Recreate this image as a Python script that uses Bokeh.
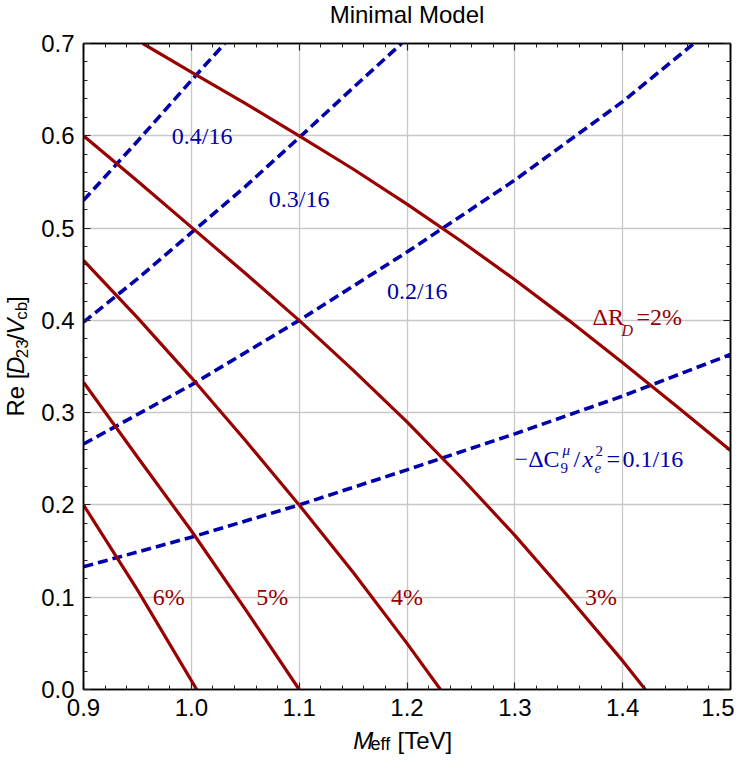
import math
from bokeh.plotting import figure
from bokeh.layouts import column, row
from bokeh.models import (Range1d, FixedTicker, LinearAxis, PrintfTickFormatter,
                          CustomJSTickFormatter, Label, Grid)
from bokeh.core.properties import value
from bokeh.embed import file_html
from bokeh.resources import INLINE

# ---------------- data ----------------
x_ticks = [0.9, 1.0, 1.1, 1.2, 1.3, 1.4, 1.5]
y_ticks = [0.0, 0.1, 0.2, 0.3, 0.4, 0.5, 0.6, 0.7]
x_minor = [round(0.9 + 0.02 * i, 2) for i in range(31)]
y_minor = [round(0.02 * i, 2) for i in range(36)]

# Delta R_D contours (solid red)
rd2_x = [0.955, 1.0, 1.05, 1.1, 1.15, 1.2, 1.25, 1.3, 1.35, 1.4, 1.45, 1.5]
rd2_y = [0.700, 0.669, 0.635, 0.600, 0.564, 0.526, 0.486, 0.444, 0.400, 0.354, 0.307, 0.259]
rd3_x = [0.9, 0.95, 1.0, 1.05, 1.1, 1.15, 1.2, 1.25, 1.3, 1.35, 1.4, 1.421]
rd3_y = [0.600, 0.551, 0.501, 0.451, 0.400, 0.346, 0.290, 0.230, 0.167, 0.100, 0.031, 0.0]
rd4_x = [0.9, 0.95, 1.0, 1.05, 1.1, 1.15, 1.2, 1.231]
rd4_y = [0.465, 0.403, 0.338, 0.270, 0.200, 0.127, 0.050, 0.0]
rd5_x = [0.9, 0.95, 1.0, 1.05, 1.1]
rd5_y = [0.333, 0.252, 0.172, 0.087, 0.0]
rd6_x = [0.9, 0.95, 1.005]
rd6_y = [0.200, 0.108, 0.0]

# -Delta C9 / x_e^2 contours (dashed blue)
c1_x = [0.9, 1.0, 1.1, 1.2, 1.3, 1.4, 1.5]
c1_y = [0.133, 0.165, 0.200, 0.238, 0.277, 0.318, 0.363]
c2_x = [0.9, 1.0, 1.1, 1.2, 1.3, 1.4, 1.466]
c2_y = [0.266, 0.330, 0.400, 0.474, 0.552, 0.637, 0.700]
c3_x = [0.9, 0.95, 1.0, 1.05, 1.1, 1.15, 1.195]
c3_y = [0.398, 0.445, 0.495, 0.545, 0.598, 0.652, 0.700]
c4_x = [0.9, 0.95, 1.0, 1.031]
c4_y = [0.530, 0.594, 0.660, 0.700]

RED = "#990000"
BLUE = "#0000aa"
SANS = "Liberation Sans"
SERIF = "Liberation Serif"
SERIF_MID = 0.3375   # em distance baseline -> middle of text box
SANS_MID = 0.3465

# ---------------- main plot ----------------
p = figure(width=702, height=696, frame_width=647, frame_height=646,
           x_range=Range1d(0.9, 1.5), y_range=Range1d(0.0, 0.7),
           output_backend="svg", toolbar_location=None, title=None,
           x_axis_type=None, y_axis_type=None,
           min_border_left=51, min_border_right=4,
           min_border_top=13, min_border_bottom=37)
p.outline_line_color = "black"
p.outline_line_width = 1.5

p.add_layout(Grid(dimension=0, ticker=FixedTicker(ticks=x_ticks),
                  grid_line_color="#c8c8c8", grid_line_width=1.3))
p.add_layout(Grid(dimension=1, ticker=FixedTicker(ticks=y_ticks),
                  grid_line_color="#c8c8c8", grid_line_width=1.3))


def style_axis(ax, ticks, minor, labels=True, standoff=8):
    ax.ticker = FixedTicker(ticks=ticks, minor_ticks=minor)
    ax.axis_line_color = "black"
    ax.axis_line_width = 1.5
    ax.major_tick_in = 7
    ax.major_tick_out = 0
    ax.minor_tick_in = 4
    ax.minor_tick_out = 0
    ax.major_tick_line_color = "#222222"
    ax.minor_tick_line_color = "#222222"
    ax.major_tick_line_width = 1.2
    ax.minor_tick_line_width = 1.0
    ax.major_label_text_font = SANS
    ax.major_label_text_font_size = "24px"
    ax.major_label_text_color = "black"
    ax.major_label_standoff = standoff
    if labels:
        ax.formatter = PrintfTickFormatter(format="%.1f")
    else:
        ax.formatter = CustomJSTickFormatter(code="return ''")
        ax.major_label_standoff = 0


xb = LinearAxis(); style_axis(xb, x_ticks, x_minor, standoff=9)
yl = LinearAxis(); style_axis(yl, y_ticks, y_minor, standoff=9)
xt = LinearAxis(); style_axis(xt, x_ticks, x_minor, labels=False)
yr = LinearAxis(); style_axis(yr, y_ticks, y_minor, labels=False)
p.add_layout(xb, "below")
p.add_layout(yl, "left")
p.add_layout(xt, "above")
p.add_layout(yr, "right")

for xs, ys in [(c1_x, c1_y), (c2_x, c2_y), (c3_x, c3_y), (c4_x, c4_y)]:
    p.line(xs, ys, line_color=BLUE, line_width=3.6, line_dash="10 5")
for xs, ys in [(rd2_x, rd2_y), (rd3_x, rd3_y), (rd4_x, rd4_y),
               (rd5_x, rd5_y), (rd6_x, rd6_y)]:
    p.line(xs, ys, line_color=RED, line_width=3.2)


def lab(x, y, text, dx=0, dy=0, size=24, style="normal", color="black",
        align="left", centered=False):
    # dy: offset (px, up) of the text baseline; rendered via 'middle' baseline
    yo = 0 if centered else dy + SERIF_MID * size
    p.add_layout(Label(x=x, y=y, text=text, x_offset=dx, y_offset=yo,
                       text_font=SERIF, text_font_size=f"{size}px",
                       text_font_style=style, text_color=color,
                       text_align=align, text_baseline="middle"))


for xc, t in [(0.979, "6%"), (1.075, "5%"), (1.200, "4%"), (1.380, "3%")]:
    lab(xc, 0.1, t, color=RED, align="center", centered=True)
for xc, yc, t in [(1.010, 0.600, "0.4/16"), (1.100, 0.531, "0.3/16"),
                  (1.2095, 0.432, "0.2/16")]:
    lab(xc, yc, t, color=BLUE, align="center", centered=True)

# Delta R_D = 2%
ax0, ay0 = 1.372, 0.3945
lab(ax0, ay0, "\u0394R", 0, 0, 24, color=RED)
lab(ax0, ay0, "D", 29, -10, 16, "italic", color=RED)
lab(ax0, ay0, "=2%", 44, 0, 24, color=RED)

# -Delta C9^mu / x_e^2 = 0.1/16
bx0, by0 = 1.2998, 0.241
lab(bx0, by0, "\u2212\u0394C", 0, 0, 24, color=BLUE)
lab(bx0, by0, "9", 46, -6, 15, color=BLUE)
lab(bx0, by0, "\u03bc", 48, 12, 15, "italic", color=BLUE)
lab(bx0, by0, "/", 59, 0, 24, color=BLUE)
lab(bx0, by0, "x", 68, 0, 24, "italic", color=BLUE)
lab(bx0, by0, "e", 80, -6, 15, "italic", color=BLUE)
lab(bx0, by0, "2", 81, 11, 15, color=BLUE)
lab(bx0, by0, "=", 92, 0, 24, color=BLUE)
lab(bx0, by0, "0.1/16", 108, 0, 24, color=BLUE)


# ---------------- text strips (title, axis labels) ----------------
def strip(w, h, x0, y0):
    f = figure(width=w, height=h, x_range=Range1d(x0, x0 + w),
               y_range=Range1d(y0 + h, y0), output_backend="svg",
               toolbar_location=None, title=None, x_axis_type=None,
               y_axis_type=None, min_border=0)
    f.outline_line_color = None
    return f


def txt(f, x, y, text, size=24, style="normal", angle=0, align="left"):
    # (x, y): page position of the baseline start; drawn with 'middle' baseline
    m = SANS_MID * size
    if angle:
        x = x - m
    else:
        y = y - m
    f.text(x=[x], y=[y], text=[text], text_font=value(SANS),
           text_font_size=value(f"{size}px"), text_font_style=value(style),
           text_color="black", text_align=value(align),
           text_baseline=value("middle"), angle=angle)


# title strip: page y 0..30
ft = strip(734, 30, 0, 0)
txt(ft, 406.5, 22.0, "Minimal Model", align="center")

# y-label strip: page x 0..32, y 30..726
fy = strip(32, 696, 0, 30)
A = math.pi / 2
bx = 23
txt(fy, bx, 432, "Re [", angle=A)
txt(fy, bx, 386, "D", style="italic", angle=A)
txt(fy, bx + 4, 369, "23", size=17, angle=A)
txt(fy, bx, 350, "/", angle=A)
txt(fy, bx, 343.5, "V", style="italic", angle=A)
txt(fy, bx + 4, 327.5, "cb", size=17, angle=A)
txt(fy, bx, 309.5, "]", angle=A)

# x-label strip: page y 726..754
fx = strip(734, 28, 0, 726)
txt(fx, 352.7, 748.0, "M", style="italic")
txt(fx, 370, 750.0, "eff", size=18)
txt(fx, 397, 748.0, "[TeV]")

layout = column(ft, row(fy, p), fx)
open("out.html", "w").write(file_html(layout, INLINE))
